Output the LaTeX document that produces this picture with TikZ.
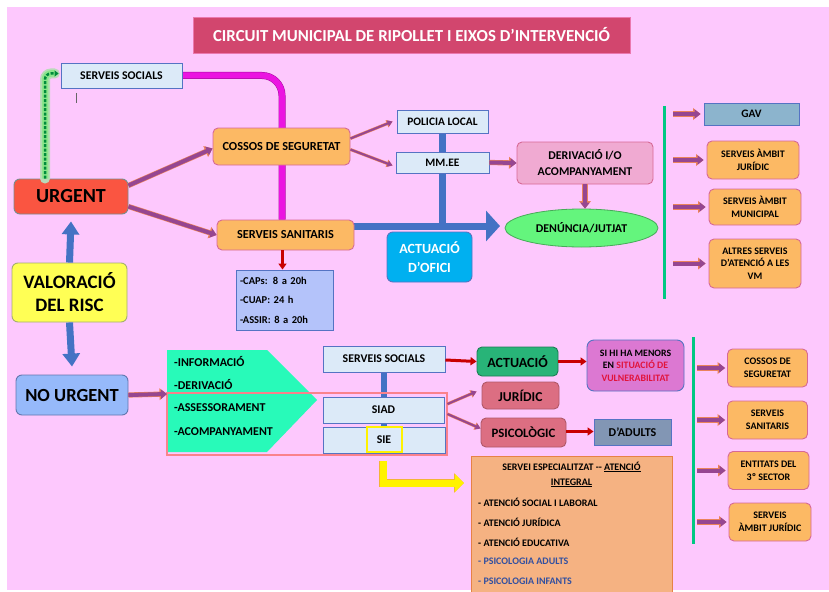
\documentclass[tikz,border=0pt]{standalone}
\usepackage{fontspec}
\setmainfont{Carlito}
\usetikzlibrary{arrows.meta}
\usetikzlibrary{shapes.geometric}
\usetikzlibrary{backgrounds}
\definecolor{bgpink}{RGB}{253,200,253}
\definecolor{titlefill}{RGB}{210,70,110}
\definecolor{titleedge}{RGB}{235,120,175}
\definecolor{lightblue}{RGB}{220,234,248}
\definecolor{edgeblue}{RGB}{85,115,195}
\definecolor{orangefill}{RGB}{252,185,100}
\definecolor{edgepink}{RGB}{215,105,150}
\definecolor{urgentred}{RGB}{250,85,65}
\definecolor{edgegray}{RGB}{120,140,140}
\definecolor{valyellow}{RGB}{255,255,85}
\definecolor{edgeolive}{RGB}{165,175,110}
\definecolor{noblue}{RGB}{150,185,250}
\definecolor{capsblue}{RGB}{180,195,250}
\definecolor{oficicyan}{RGB}{0,176,240}
\definecolor{derivpink}{RGB}{240,170,210}
\definecolor{denungreen}{RGB}{100,245,125}
\definecolor{gavblue}{RGB}{140,180,205}
\definecolor{bargreen}{RGB}{0,200,130}
\definecolor{aquagreen}{RGB}{40,250,185}
\definecolor{framepink}{RGB}{250,130,140}
\definecolor{actgreen}{RGB}{40,180,120}
\definecolor{orchid}{RGB}{220,120,210}
\definecolor{rose}{RGB}{220,110,130}
\definecolor{slate}{RGB}{130,150,180}
\definecolor{salmon}{RGB}{245,178,130}
\definecolor{salmonedge}{RGB}{230,130,70}
\definecolor{txtblue}{RGB}{50,80,160}
\definecolor{txtred}{RGB}{225,20,60}
\definecolor{arrpurple}{RGB}{150,70,145}
\definecolor{arrorange}{RGB}{235,130,90}
\definecolor{arrblue}{RGB}{68,114,196}
\definecolor{arrred}{RGB}{200,0,0}
\definecolor{magline}{RGB}{235,20,225}
\definecolor{dkgreen}{RGB}{0,140,60}
\definecolor{glowgreen}{RGB}{140,230,140}
\newcommand{\fsz}[2]{\fontsize{#1}{#2}\selectfont}
\tikzset{
    sbox/.style={
        draw=edgeblue,
        fill=lightblue,
        line width=0.9pt,
        inner sep=0pt,
        align=center,
        font=\bfseries\fsz{11.8}{14}},
    obox/.style={
        draw=edgepink,
        fill=orangefill,
        line width=0.9pt,
        rounded corners=5pt,
        inner sep=0pt,
        align=center,
        font=\bfseries\fsz{10}{12.7}},
    bigbox/.style={
        draw=edgegray,
        line width=0.9pt,
        rounded corners=6pt,
        inner sep=0pt,
        align=center,
        font=\bfseries\fsz{19}{23}},
    listtext/.style={
        anchor=west,
        inner sep=0pt,
        font=\bfseries\fsz{10}{12}},
    fatarrow/.style={
        draw=arrpurple,
        line width=4pt,
        -{Triangle[length=6pt,width=9pt]},
        preaction={draw=arrorange, line width=5.2pt, -{Triangle[length=7.5pt,width=11.5pt]}}},
    slimarrow/.style={
        draw=arrpurple,
        line width=2pt,
        -{Triangle[length=5pt,width=6pt]},
        preaction={draw=arrorange, line width=3pt, -{Triangle[length=6pt,width=7.5pt]}}},
    bluearrow/.style={
        draw=arrblue,
        line width=7pt,
        -{Triangle[length=13pt,width=17pt]}},
    redarrow/.style={
        draw=arrred,
        line width=3pt,
        -{Triangle[length=6pt,width=8pt]}},
    greenbar/.style={
        draw=bargreen,
        line width=3pt}}

\begin{document}
\begin{tikzpicture}[x=1pt,y=-1pt]
    \useasboundingbox (0,0) rectangle (829,591);

    % title
    \node[draw=titleedge, fill=titlefill, line width=0.8pt, minimum width=437, minimum height=36, text=white, font=\bfseries\fsz{16.8}{19}] (0) at (411.5,35) {CIRCUIT MUNICIPAL DE RIPOLLET I EIXOS D’INTERVENCIÓ};

    % urgent branch
    \node[sbox, minimum width=121, minimum height=25] (1) at (121.5,75.5) {SERVEIS SOCIALS};
    \node[bigbox, fill=urgentred, minimum width=114, minimum height=35, font=\bfseries\fsz{20}{24}] (2) at (71,196.5) {URGENT};
    \node[obox, minimum width=137, minimum height=37, font=\bfseries\fsz{12.3}{14}] (3) at (281.5,146.5) {COSSOS DE SEGURETAT};
    \node[obox, minimum width=137, minimum height=30, font=\bfseries\fsz{12.3}{14}] (4) at (285.5,235) {SERVEIS SANITARIS};
    \node[draw=edgeblue, fill=capsblue, line width=0.9pt, minimum width=97, minimum height=60, inner sep=4pt, align=left, text width=89, font=\bfseries\fsz{10.5}{19.5}] (5) at (284.5,300) {-CAPs: 8 a 20h\\-CUAP: 24 h\\-ASSIR: 8 a 20h};
    \node[sbox, minimum width=91, minimum height=23, font=\bfseries\fsz{11.4}{13}] (6) at (442.5,121.5) {POLICIA LOCAL};
    \node[sbox, minimum width=93, minimum height=21, font=\bfseries\fsz{11.4}{13}] (7) at (442.5,162.5) {MM.EE};
    \node[bigbox, draw=edgeblue, fill=oficicyan, text=white, minimum width=85, minimum height=50, font=\bfseries\fsz{14}{19}] (8) at (429.5,257) {ACTUACIÓ\\D’OFICI};
    \node[obox, draw=edgepink, fill=derivpink, minimum width=136, minimum height=42, font=\bfseries\fsz{11.9}{16}] (9) at (585,163) {DERIVACIÓ I/O\\ACOMPANYAMENT};
    \node[ellipse, draw=denungreen!70!black, fill=denungreen, line width=0.8pt, minimum width=153, minimum height=38, inner sep=0pt, font=\bfseries\fsz{11.9}{14}] (10) at (581.5,228) {DENÚNCIA/JUTJAT};

    \node[sbox, fill=gavblue, minimum width=95, minimum height=22, font=\bfseries\fsz{11.4}{13}] (11) at (751.5,114) {GAV};
    \node[obox, minimum width=92, minimum height=38] (12) at (753,160) {SERVEIS ÀMBIT\\JURÍDIC};
    \node[obox, minimum width=92, minimum height=36] (13) at (755,207) {SERVEIS ÀMBIT\\MUNICIPAL};
    \node[obox, minimum width=92, minimum height=49] (14) at (755,263.5) {ALTRES SERVEIS\\D’ATENCIÓ A LES\\VM};

    % risk assessment
    \node[bigbox, draw=edgeolive, fill=valyellow, minimum width=115, minimum height=59] (15) at (69.5,292.5) {VALORACIÓ\\DEL RISC};
    \node[bigbox, draw=edgeblue!70!gray, fill=noblue, minimum width=112, minimum height=40, font=\bfseries\fsz{18.5}{22}] (16) at (72,395) {NO URGENT};

    % non urgent branch
    \fill[aquagreen] (167,350) -- (267,350) -- (317,400) -- (267,452) -- (167,452) -- cycle;
    \coordinate (p) at (167,394);
    \node[listtext, font=\bfseries\fsz{12}{14}] (32) at (174,361) {-INFORMACIÓ};
    \node[listtext, font=\bfseries\fsz{12}{14}] (33) at (174,384) {-DERIVACIÓ};
    \node[listtext, font=\bfseries\fsz{12}{14}] (34) at (174,408) {-ASSESSORAMENT};
    \node[listtext, font=\bfseries\fsz{12}{14}] (35) at (174,432) {-ACOMPANYAMENT};
    \draw[framepink, line width=1.6pt] (167,393) rectangle (447,455);

    \node[sbox, minimum width=122, minimum height=26] (17) at (384,359) {SERVEIS SOCIALS};
    \node[sbox, minimum width=121, minimum height=26] (18) at (383.5,410) {SIAD};
    \node[sbox, minimum width=122, minimum height=26] (19) at (384,440) {SIE};
    \draw[yellow, line width=1.8pt] (367,427) rectangle (402,452);

    \node[obox, draw=actgreen!70!black, fill=actgreen, minimum width=81, minimum height=29, font=\bfseries\fsz{14}{16}] (20) at (517.5,361.5) {ACTUACIÓ};
    \node[obox, draw=edgeblue, fill=orchid, minimum width=97, minimum height=51, rounded corners=7pt, font=\bfseries\fsz{9.8}{12.5}] (21) at (635.5,365.5) {SI HI HA MENORS\\EN \textcolor{txtred}{SITUACIÓ DE}\\\textcolor{txtred}{VULNERABILITAT}};
    \node[obox, draw=rose!80!black, fill=rose, minimum width=77, minimum height=27, font=\bfseries\fsz{13.6}{15}] (22) at (520.5,395.5) {JURÍDIC};
    \node[obox, draw=rose!80!black, fill=rose, minimum width=85, minimum height=29, font=\bfseries\fsz{12.8}{15}] (23) at (523.5,432.5) {PSICOLÒGIC};
    \node[sbox, fill=slate, minimum width=77, minimum height=26, font=\bfseries\fsz{12}{14}] (24) at (632.5,432) {D’ADULTS};

    \node[draw=salmonedge, fill=salmon, line width=0.9pt, minimum width=201, minimum height=140, anchor=north west] (25) at (471,456) {};
    \node[align=center, inner sep=0pt, font=\bfseries\fsz{10}{15}] (26) at (571.5,474.5) {SERVEI ESPECIALITZAT -{}- \underline{ATENCIÓ}\\\underline{INTEGRAL}};
    \node[listtext] (27) at (478,502) {- ATENCIÓ SOCIAL I LABORAL};
    \node[listtext] (28) at (478,522) {- ATENCIÓ JURÍDICA};
    \node[listtext] (29) at (478,542) {- ATENCIÓ EDUCATIVA};
    \node[listtext, text=txtblue] (30) at (478,561) {- PSICOLOGIA ADULTS};
    \node[listtext, text=txtblue] (31) at (478,581) {- PSICOLOGIA INFANTS};

    \node[obox, minimum width=80, minimum height=38] (36) at (767.5,368) {COSSOS DE\\SEGURETAT};
    \node[obox, minimum width=80, minimum height=38] (37) at (767.5,420) {SERVEIS\\SANITARIS};
    \node[obox, minimum width=81, minimum height=38] (38) at (768.5,470.5) {ENTITATS DEL\\3º SECTOR};
    \node[obox, minimum width=82, minimum height=38] (39) at (770,522) {SERVEIS\\ÀMBIT JURÍDIC};

    % bars
    \coordinate (b1) at (664,106);
    \coordinate (b2) at (693,337);
    \draw[greenbar] (b1) -- (664,299);
    \draw[greenbar] (b2) -- (693,544);

    % connectors
    \draw[draw=dkgreen, line width=2.5pt, dash pattern=on 3pt off 1.5pt, rounded corners=6pt, -{Triangle[length=4pt,width=6pt]},
        preaction={draw=glowgreen!60!bgpink, line width=10pt, solid, line cap=round},
        preaction={draw=glowgreen, line width=6.5pt, solid}] ([xshift=-26pt]2.north) |- ([xshift=-2pt,yshift=2pt]1.west);
    \draw[fatarrow] ([yshift=11pt]2.east) -- ([yshift=-2pt]3.west);
    \draw[fatarrow] ([yshift=-10pt]2.east) -- (4.west);
    \draw[redarrow, line width=2.5pt] ([xshift=-3pt]4.south) -- ([xshift=-3pt]4.south |- 5.north);
    \draw[slimarrow] ([yshift=8pt]3.east) -- ([xshift=-4pt]6.west);
    \draw[slimarrow] ([yshift=-3pt]3.east) -- ([xshift=-3pt,yshift=-3pt]7.west);
    \draw[fatarrow] (7.east) -- (9.west);
    \draw[fatarrow] (9.south) -- (9.south |- 10.north);
    \foreach \n in {11,12,13,14}
        \draw[fatarrow] ([xshift=9pt]b1 |- \n.west) -- ([xshift=-3pt]\n.west);
    \foreach \n in {36,37,38,39}
        \draw[fatarrow] ([xshift=4pt]b2 |- \n.west) -- ([xshift=-2pt]\n.west);

    \draw[bluearrow] (15.north) -- ([yshift=-7pt]2.south);
    \draw[bluearrow] (15.south) -- ([yshift=8pt]16.north);
    \draw[fatarrow] (16.east) -- (p);

    \draw[redarrow] ([yshift=-1pt]17.east) -- (20.west);
    \draw[redarrow] (20.east) -- ([yshift=4pt]21.west);
    \draw[slimarrow] ([xshift=3pt,yshift=6pt]18.east) -- ([xshift=-5pt,yshift=4pt]22.west);
    \draw[slimarrow] ([xshift=3pt,yshift=-4pt]18.east) -- ([yshift=4pt]23.west);
    \draw[redarrow] ([yshift=1pt]23.east) -- ([yshift=0.5pt]24.west);
    \draw[draw=yellow, line width=7pt, -{Triangle[length=9pt,width=17pt]},
        preaction={draw=arrorange!60!yellow, line width=8pt, -{Triangle[length=10pt,width=19pt]}}]
        ([xshift=-1pt,yshift=-8pt]19.south) |- ([xshift=-7pt]25.west |- 0,483);

    \draw[gray!80!black, line width=0.6pt] (76,93) -- (76,103);

    \begin{scope}[on background layer]
        \fill[white] (0,0) rectangle (829,591);
        \fill[bgpink] (7,7) rectangle (829,590);
        \coordinate (t) at (500,226);
        \draw[draw=magline, line width=6pt, rounded corners=20pt,
            preaction={draw=magline!70!black, line width=7pt}] (1.east) -| ([xshift=-3.5pt]4.north);
        \draw[draw=arrblue, line width=7pt] (6.south) -- (6.south |- t);
        \draw[draw=arrblue, line width=7pt, -{Triangle[length=14pt,width=30pt]}] (4.east |- t) -- (t);
        \draw[draw=arrblue, line width=6pt] (17.south) -- ([yshift=-4pt]19.north);
    \end{scope}
\end{tikzpicture}
\end{document}
